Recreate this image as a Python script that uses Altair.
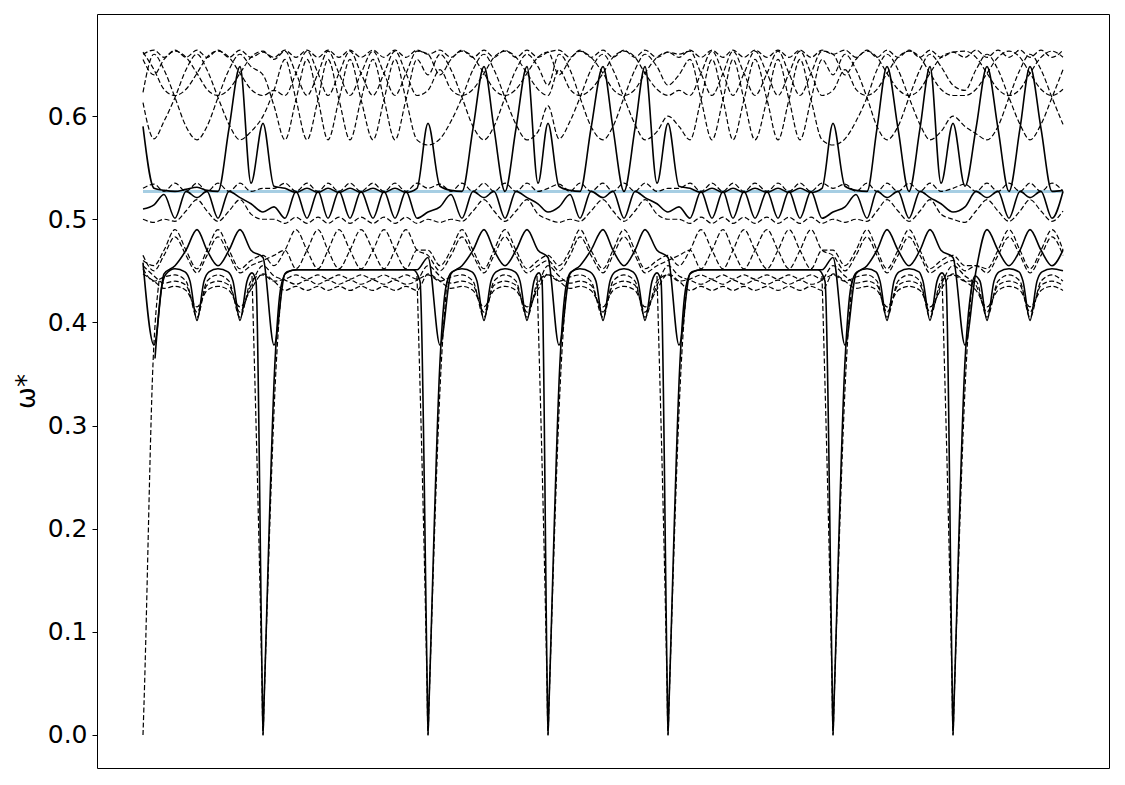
import altair as alt
import pandas as pd

# k positions along the path (grid of half-nodes), shared by the dense series
k_grid = [0, 11, 21, 32, 43, 54, 64, 75, 86, 97, 108, 120,
          131, 142, 153, 164, 175, 185, 196, 207, 218, 230, 241, 252, 263, 274, 285,
          297, 308, 319, 330, 341, 351, 362, 373, 384, 395, 405,
          416, 427, 437, 448, 460, 470, 481, 492, 502, 514, 525,
          536, 547, 558, 569, 580, 590, 601, 612, 624, 635, 646, 657, 668, 679, 690,
          702, 713, 724, 734, 744, 755, 766, 777, 787, 798, 810,
          822, 833, 844, 855, 866, 877, 887, 898, 909, 920]

# ---- dashed bands ----
u1 = [0.613, 0.578, 0.595, 0.618, 0.645, 0.660, 0.645, 0.618, 0.592, 0.577, 0.585, 0.600,
      0.625, 0.655, 0.616, 0.577, 0.616, 0.655, 0.616, 0.577, 0.616, 0.655, 0.616, 0.577, 0.616, 0.655, 0.640,
      0.660, 0.645, 0.618, 0.590, 0.577, 0.590, 0.618, 0.645, 0.660, 0.648, 0.630,
      0.660, 0.645, 0.618, 0.590, 0.577, 0.590, 0.618, 0.645, 0.660, 0.648, 0.630,
      0.640, 0.655, 0.616, 0.577, 0.616, 0.655, 0.616, 0.577, 0.616, 0.655, 0.616, 0.577, 0.616, 0.655, 0.640,
      0.660, 0.645, 0.618, 0.590, 0.577, 0.590, 0.618, 0.645, 0.660, 0.648, 0.630,
      0.625, 0.645, 0.660, 0.645, 0.618, 0.592, 0.577, 0.592, 0.618, 0.645]
u2 = [0.623, 0.660, 0.645, 0.618, 0.590, 0.577, 0.590, 0.618, 0.645, 0.660, 0.648, 0.640,
      0.610, 0.577, 0.616, 0.655, 0.616, 0.577, 0.616, 0.655, 0.616, 0.577, 0.616, 0.655, 0.616, 0.577, 0.572,
      0.578, 0.595, 0.618, 0.645, 0.660, 0.645, 0.618, 0.592, 0.577, 0.585, 0.610,
      0.578, 0.595, 0.618, 0.645, 0.660, 0.645, 0.618, 0.592, 0.577, 0.585, 0.600,
      0.590, 0.577, 0.616, 0.655, 0.616, 0.577, 0.616, 0.655, 0.616, 0.577, 0.616, 0.655, 0.616, 0.577, 0.572,
      0.578, 0.595, 0.618, 0.645, 0.660, 0.645, 0.618, 0.592, 0.577, 0.585, 0.600,
      0.590, 0.583, 0.577, 0.590, 0.618, 0.645, 0.660, 0.645, 0.618, 0.592]
u3 = [0.655, 0.640, 0.655, 0.663, 0.657, 0.6415, 0.626, 0.620, 0.626, 0.6415, 0.657, 0.663,
      0.655, 0.663, 0.6415, 0.620, 0.6415, 0.663, 0.6415, 0.620, 0.6415, 0.663, 0.6415, 0.620, 0.6415, 0.663, 0.660,
      0.640, 0.655, 0.663, 0.657, 0.6415, 0.626, 0.620, 0.626, 0.6415, 0.657, 0.662,
      0.640, 0.655, 0.663, 0.657, 0.6415, 0.626, 0.620, 0.626, 0.6415, 0.657, 0.662,
      0.660, 0.663, 0.6415, 0.620, 0.6415, 0.663, 0.6415, 0.620, 0.6415, 0.663, 0.6415, 0.620, 0.6415, 0.663, 0.660,
      0.640, 0.655, 0.663, 0.657, 0.6415, 0.626, 0.620, 0.626, 0.6415, 0.657, 0.662,
      0.663, 0.657, 0.6415, 0.626, 0.620, 0.626, 0.6415, 0.657, 0.663, 0.657]
u4 = [0.662, 0.645, 0.626, 0.620, 0.626, 0.6415, 0.657, 0.663, 0.657, 0.6415, 0.626, 0.620,
      0.625, 0.620, 0.6415, 0.663, 0.6415, 0.620, 0.6415, 0.663, 0.6415, 0.620, 0.6415, 0.663, 0.6415, 0.620, 0.625,
      0.645, 0.626, 0.620, 0.626, 0.6415, 0.657, 0.663, 0.657, 0.6415, 0.626, 0.620,
      0.645, 0.626, 0.620, 0.626, 0.6415, 0.657, 0.663, 0.657, 0.6415, 0.626, 0.620,
      0.625, 0.620, 0.6415, 0.663, 0.6415, 0.620, 0.6415, 0.663, 0.6415, 0.620, 0.6415, 0.663, 0.6415, 0.620, 0.625,
      0.645, 0.626, 0.620, 0.626, 0.6415, 0.657, 0.663, 0.657, 0.6415, 0.626, 0.620,
      0.620, 0.626, 0.6415, 0.657, 0.663, 0.657, 0.6415, 0.626, 0.620, 0.626]
t1 = [0.660, 0.664, 0.657, 0.664, 0.657, 0.664, 0.657, 0.664, 0.657, 0.664, 0.657, 0.662,
      0.657, 0.664, 0.657, 0.664, 0.657, 0.664, 0.657, 0.664, 0.657, 0.664, 0.657, 0.664, 0.657, 0.664, 0.660,
      0.664, 0.657, 0.664, 0.657, 0.664, 0.657, 0.664, 0.657, 0.664, 0.657, 0.662,
      0.664, 0.657, 0.664, 0.657, 0.664, 0.657, 0.664, 0.657, 0.664, 0.657, 0.662,
      0.657, 0.664, 0.657, 0.664, 0.657, 0.664, 0.657, 0.664, 0.657, 0.664, 0.657, 0.664, 0.657, 0.664, 0.660,
      0.664, 0.657, 0.664, 0.657, 0.664, 0.657, 0.664, 0.657, 0.664, 0.657, 0.662,
      0.657, 0.664, 0.657, 0.664, 0.657, 0.664, 0.657, 0.664, 0.657, 0.664]
m1 = [0.530, 0.534, 0.527, 0.535, 0.527, 0.535, 0.527, 0.535, 0.527, 0.535, 0.527, 0.530,
      0.530, 0.535, 0.527, 0.535, 0.527, 0.535, 0.527, 0.535, 0.527, 0.535, 0.527, 0.535, 0.527, 0.535, 0.530,
      0.534, 0.527, 0.535, 0.527, 0.535, 0.527, 0.535, 0.527, 0.535, 0.527, 0.530,
      0.534, 0.527, 0.535, 0.527, 0.535, 0.527, 0.535, 0.527, 0.535, 0.527, 0.530,
      0.530, 0.535, 0.527, 0.535, 0.527, 0.535, 0.527, 0.535, 0.527, 0.535, 0.527, 0.535, 0.527, 0.535, 0.530,
      0.534, 0.527, 0.535, 0.527, 0.535, 0.527, 0.535, 0.527, 0.535, 0.527, 0.530,
      0.534, 0.527, 0.535, 0.527, 0.535, 0.527, 0.535, 0.527, 0.535, 0.527]
m2 = [0.500, 0.497, 0.500, 0.498, 0.508, 0.519, 0.508, 0.498, 0.508, 0.519, 0.505, 0.500,
      0.500, 0.496, 0.502, 0.496, 0.502, 0.496, 0.502, 0.496, 0.502, 0.496, 0.502, 0.496, 0.502, 0.496, 0.500,
      0.497, 0.500, 0.498, 0.508, 0.519, 0.508, 0.498, 0.508, 0.519, 0.505, 0.500,
      0.497, 0.500, 0.498, 0.508, 0.519, 0.508, 0.498, 0.508, 0.519, 0.505, 0.500,
      0.500, 0.496, 0.502, 0.496, 0.502, 0.496, 0.502, 0.496, 0.502, 0.496, 0.502, 0.496, 0.502, 0.496, 0.500,
      0.497, 0.500, 0.498, 0.508, 0.519, 0.508, 0.498, 0.508, 0.519, 0.505, 0.500,
      0.497, 0.508, 0.519, 0.508, 0.498, 0.508, 0.519, 0.508, 0.498, 0.508]
l1 = [0.460, 0.455, 0.470, 0.490, 0.470, 0.452, 0.470, 0.490, 0.470, 0.452, 0.460, 0.465,
      0.455, 0.470, 0.490, 0.470, 0.452, 0.470, 0.490, 0.470, 0.452, 0.470, 0.490, 0.470, 0.452, 0.470, 0.470,
      0.455, 0.470, 0.490, 0.470, 0.452, 0.470, 0.490, 0.470, 0.452, 0.460, 0.465,
      0.455, 0.470, 0.490, 0.470, 0.452, 0.470, 0.490, 0.470, 0.452, 0.460, 0.465,
      0.455, 0.470, 0.490, 0.470, 0.452, 0.470, 0.490, 0.470, 0.452, 0.470, 0.490, 0.470, 0.452, 0.470, 0.470,
      0.455, 0.470, 0.490, 0.470, 0.452, 0.470, 0.490, 0.470, 0.452, 0.460, 0.465,
      0.455, 0.455, 0.452, 0.470, 0.490, 0.470, 0.452, 0.470, 0.490, 0.470]
l2 = [0.465, 0.450, 0.465, 0.483, 0.465, 0.448, 0.465, 0.483, 0.465, 0.448, 0.455, 0.460,
      0.465, 0.470, 0.452, 0.470, 0.490, 0.470, 0.452, 0.470, 0.490, 0.470, 0.452, 0.470, 0.490, 0.470, 0.465,
      0.450, 0.465, 0.483, 0.465, 0.448, 0.465, 0.483, 0.465, 0.448, 0.455, 0.460,
      0.450, 0.465, 0.483, 0.465, 0.448, 0.465, 0.483, 0.465, 0.448, 0.455, 0.460,
      0.465, 0.470, 0.452, 0.470, 0.490, 0.470, 0.452, 0.470, 0.490, 0.470, 0.452, 0.470, 0.490, 0.470, 0.465,
      0.450, 0.465, 0.483, 0.465, 0.448, 0.465, 0.483, 0.465, 0.448, 0.455, 0.460,
      0.450, 0.455, 0.448, 0.465, 0.483, 0.465, 0.448, 0.465, 0.483, 0.465]
sc1 = [0.452, 0.440, 0.444, 0.446, 0.440, 0.405, 0.440, 0.446, 0.440, 0.405, 0.440, 0.446,
       0.440, 0.442, 0.446, 0.442, 0.446, 0.442, 0.446, 0.442, 0.446, 0.442, 0.446, 0.442, 0.446, 0.442, 0.446,
       0.440, 0.444, 0.446, 0.440, 0.405, 0.440, 0.446, 0.440, 0.405, 0.440, 0.446,
       0.440, 0.444, 0.446, 0.440, 0.405, 0.440, 0.446, 0.440, 0.405, 0.440, 0.446,
       0.440, 0.442, 0.446, 0.442, 0.446, 0.442, 0.446, 0.442, 0.446, 0.442, 0.446, 0.442, 0.446, 0.442, 0.446,
       0.440, 0.444, 0.446, 0.440, 0.405, 0.440, 0.446, 0.440, 0.405, 0.440, 0.446,
       0.440, 0.440, 0.405, 0.440, 0.446, 0.440, 0.405, 0.440, 0.446, 0.440]
sc2 = [0.455, 0.445, 0.438, 0.440, 0.436, 0.410, 0.436, 0.440, 0.436, 0.410, 0.436, 0.455,
       0.445, 0.441, 0.437, 0.441, 0.437, 0.441, 0.437, 0.441, 0.437, 0.441, 0.437, 0.441, 0.437, 0.441, 0.455,
       0.445, 0.438, 0.440, 0.436, 0.410, 0.436, 0.440, 0.436, 0.410, 0.436, 0.455,
       0.445, 0.438, 0.440, 0.436, 0.410, 0.436, 0.440, 0.436, 0.410, 0.436, 0.455,
       0.445, 0.441, 0.437, 0.441, 0.437, 0.441, 0.437, 0.441, 0.437, 0.441, 0.437, 0.441, 0.437, 0.441, 0.455,
       0.445, 0.438, 0.440, 0.436, 0.410, 0.436, 0.440, 0.436, 0.410, 0.436, 0.455,
       0.445, 0.436, 0.410, 0.436, 0.440, 0.436, 0.410, 0.436, 0.440, 0.436]
sc3 = [0.447, 0.440, 0.433, 0.435, 0.431, 0.415, 0.431, 0.435, 0.431, 0.415, 0.432, 0.447,
       0.440, 0.431, 0.435, 0.431, 0.435, 0.431, 0.435, 0.431, 0.435, 0.431, 0.435, 0.431, 0.435, 0.431, 0.447,
       0.440, 0.433, 0.435, 0.431, 0.415, 0.431, 0.435, 0.431, 0.415, 0.432, 0.447,
       0.440, 0.433, 0.435, 0.431, 0.415, 0.431, 0.435, 0.431, 0.415, 0.432, 0.447,
       0.440, 0.431, 0.435, 0.431, 0.435, 0.431, 0.435, 0.431, 0.435, 0.431, 0.435, 0.431, 0.435, 0.431, 0.447,
       0.440, 0.433, 0.435, 0.431, 0.415, 0.431, 0.435, 0.431, 0.415, 0.432, 0.447,
       0.440, 0.431, 0.415, 0.431, 0.435, 0.431, 0.415, 0.431, 0.435, 0.431]

# dashed deep dips to zero (own knots, one piece per dip)
d_spike_k = [0, 1, 10, 16,
             109, 119, 120, 121, 133, 139,
             274, 284, 285, 286, 298, 304,
             394, 404, 405, 406, 418, 424,
             514, 524, 525, 526, 538, 544,
             679, 689, 690, 691, 703, 709,
             799, 809, 810, 811, 823, 829]
d_spike_w = [0.000, 0.030, 0.360, 0.440,
             0.445, 0.050, 0.000, 0.030, 0.355, 0.440,
             0.445, 0.050, 0.000, 0.030, 0.355, 0.440,
             0.445, 0.050, 0.000, 0.030, 0.355, 0.440,
             0.445, 0.050, 0.000, 0.030, 0.355, 0.440,
             0.445, 0.050, 0.000, 0.030, 0.355, 0.440,
             0.445, 0.050, 0.000, 0.030, 0.355, 0.440]
d_spike_id = [0, 0, 0, 0,
              1, 1, 1, 1, 1, 1,
              2, 2, 2, 2, 2, 2,
              3, 3, 3, 3, 3, 3,
              4, 4, 4, 4, 4, 4,
              5, 5, 5, 5, 5, 5,
              6, 6, 6, 6, 6, 6]

# ---- solid bands ----
s_up = [0.590, 0.530, 0.528, 0.527, 0.529, 0.531, 0.528, 0.527, 0.588, 0.648, 0.535, 0.593,
        0.532, 0.530, 0.526, 0.530, 0.526, 0.530, 0.526, 0.530, 0.526, 0.530, 0.526, 0.530, 0.526, 0.530, 0.593,
        0.532, 0.528, 0.527, 0.588, 0.648, 0.588, 0.527, 0.588, 0.648, 0.535, 0.593,
        0.532, 0.528, 0.527, 0.588, 0.648, 0.588, 0.527, 0.588, 0.648, 0.535, 0.593,
        0.532, 0.530, 0.526, 0.530, 0.526, 0.530, 0.526, 0.530, 0.526, 0.530, 0.526, 0.530, 0.526, 0.530, 0.593,
        0.532, 0.528, 0.527, 0.588, 0.648, 0.588, 0.527, 0.588, 0.648, 0.535, 0.593,
        0.532, 0.588, 0.648, 0.588, 0.527, 0.588, 0.648, 0.588, 0.527, 0.528]
s_mid = [0.510, 0.514, 0.524, 0.501, 0.527, 0.521, 0.527, 0.501, 0.527, 0.521, 0.515, 0.507,
         0.512, 0.501, 0.527, 0.501, 0.527, 0.501, 0.527, 0.501, 0.527, 0.501, 0.527, 0.501, 0.527, 0.501, 0.507,
         0.512, 0.524, 0.501, 0.527, 0.521, 0.527, 0.501, 0.527, 0.521, 0.515, 0.507,
         0.512, 0.524, 0.501, 0.527, 0.521, 0.527, 0.501, 0.527, 0.521, 0.515, 0.507,
         0.512, 0.501, 0.527, 0.501, 0.527, 0.501, 0.527, 0.501, 0.527, 0.501, 0.527, 0.501, 0.527, 0.501, 0.507,
         0.512, 0.524, 0.501, 0.527, 0.521, 0.527, 0.501, 0.527, 0.521, 0.515, 0.507,
         0.512, 0.527, 0.521, 0.527, 0.501, 0.527, 0.521, 0.527, 0.501, 0.527]
s_lam = [0.458, 0.378, 0.447, 0.455, 0.470, 0.490, 0.470, 0.455, 0.470, 0.490, 0.470, 0.463,
         0.378, 0.447, 0.451, 0.451, 0.451, 0.451, 0.451, 0.451, 0.451, 0.451, 0.451, 0.451, 0.451, 0.451, 0.463,
         0.378, 0.447, 0.455, 0.470, 0.490, 0.470, 0.455, 0.470, 0.490, 0.470, 0.463,
         0.378, 0.447, 0.455, 0.470, 0.490, 0.470, 0.455, 0.470, 0.490, 0.470, 0.463,
         0.378, 0.447, 0.451, 0.451, 0.451, 0.451, 0.451, 0.451, 0.451, 0.451, 0.451, 0.451, 0.451, 0.451, 0.463,
         0.378, 0.447, 0.455, 0.470, 0.490, 0.470, 0.455, 0.470, 0.490, 0.470, 0.463,
         0.378, 0.450, 0.490, 0.470, 0.455, 0.470, 0.490, 0.470, 0.455, 0.470]

# lowest solid band with the deep dips to zero (own knots)
s_low_k = [12, 18, 23, 32, 42, 47, 54, 61, 66, 75, 85, 90, 97, 104, 109, 113, 119, 120, 121,
           132, 138, 144, 155, 270, 277, 284, 285, 286,
           297, 303, 309, 319, 329, 334, 341, 348, 353, 362, 372, 377, 384, 391, 396, 399, 404, 405, 406,
           417, 423, 428, 437, 447, 453, 460, 467, 472, 481, 490, 495, 502, 509, 514, 518, 524, 525, 526,
           537, 543, 549, 560, 675, 682, 689, 690, 691,
           702, 708, 714, 724, 733, 737, 744, 751, 756, 766, 776, 780, 787, 794, 799, 803, 809, 810, 811,
           822, 828, 832, 837, 844, 851, 856, 866, 876, 880, 887, 894, 899, 909, 920]
s_low_w = [0.365, 0.430, 0.447, 0.452, 0.449, 0.440, 0.402, 0.440, 0.449, 0.452, 0.449, 0.440, 0.402, 0.440, 0.448, 0.440, 0.060, 0.000, 0.030,
           0.362, 0.435, 0.449, 0.451, 0.451, 0.440, 0.060, 0.000, 0.030,
           0.362, 0.435, 0.449, 0.452, 0.449, 0.440, 0.402, 0.440, 0.449, 0.452, 0.449, 0.440, 0.402, 0.440, 0.448, 0.440, 0.060, 0.000, 0.030,
           0.362, 0.435, 0.449, 0.452, 0.449, 0.440, 0.402, 0.440, 0.449, 0.452, 0.449, 0.440, 0.402, 0.440, 0.448, 0.440, 0.060, 0.000, 0.030,
           0.362, 0.435, 0.449, 0.451, 0.451, 0.440, 0.060, 0.000, 0.030,
           0.362, 0.435, 0.449, 0.452, 0.449, 0.440, 0.402, 0.440, 0.449, 0.452, 0.449, 0.440, 0.402, 0.440, 0.448, 0.440, 0.060, 0.000, 0.030,
           0.362, 0.430, 0.445, 0.440, 0.402, 0.440, 0.449, 0.452, 0.449, 0.440, 0.402, 0.440, 0.449, 0.452, 0.450]

# reference level (light blue)
ref_k = [0, 920]
ref_w = [0.527, 0.527]

y_ticks = [0.0, 0.1, 0.2, 0.3, 0.4, 0.5, 0.6]

dashed = [("u1", u1), ("u2", u2), ("u3", u3), ("u4", u4), ("t1", t1), ("m1", m1),
          ("m2", m2), ("l1", l1), ("l2", l2), ("sc1", sc1), ("sc2", sc2), ("sc3", sc3)]
solid = [("s_up", s_up), ("s_mid", s_mid), ("s_lam", s_lam)]

rows_d = []
for name, vals in dashed:
    assert len(vals) == len(k_grid), (name, len(vals))
    for k, w in zip(k_grid, vals):
        rows_d.append({"k": k, "w": w, "series": name})
assert len(d_spike_k) == len(d_spike_w) == len(d_spike_id)
for k, w, i in zip(d_spike_k, d_spike_w, d_spike_id):
    rows_d.append({"k": k, "w": w, "series": "spike%d" % i})
rows_s = []
for name, vals in solid:
    assert len(vals) == len(k_grid), (name, len(vals))
    for k, w in zip(k_grid, vals):
        rows_s.append({"k": k, "w": w, "series": name})
assert len(s_low_k) == len(s_low_w), (len(s_low_k), len(s_low_w))
for k, w in zip(s_low_k, s_low_w):
    rows_s.append({"k": k, "w": w, "series": "s_low"})
df_d = pd.DataFrame(rows_d)
df_s = pd.DataFrame(rows_s)
df_ref = pd.DataFrame({"k": ref_k, "w": ref_w})

xs = alt.X("k:Q", scale=alt.Scale(domain=[-46, 966], nice=False, zero=False), axis=None)
ys = alt.Y("w:Q", scale=alt.Scale(domain=[-0.032, 0.699], nice=False, zero=False),
           axis=alt.Axis(values=y_ticks, format=".1f", title="ω*", grid=False, domain=False,
                         tickSize=5, tickColor="black", tickWidth=1, labelPadding=5,
                         labelFontSize=25, labelColor="black", labelFont="DejaVu Sans",
                         titleFontSize=26, titleFont="DejaVu Sans", titleFontWeight="normal",
                         titleColor="black", titlePadding=8))

ref = alt.Chart(df_ref).mark_line(color="#a6cee3", strokeWidth=3).encode(x=xs, y=ys)
dash = alt.Chart(df_d).mark_line(color="black", strokeWidth=1.2, strokeDash=[5, 2.5],
                                 interpolate="monotone").encode(x=xs, y=ys, detail="series:N")
sol = alt.Chart(df_s).mark_line(color="black", strokeWidth=1.6,
                                interpolate="monotone").encode(x=xs, y=ys, detail="series:N")

chart = alt.layer(ref, dash, sol).properties(
    width=1012, height=754,
    background="white",
    autosize=alt.AutoSizeParams(type="none"),
    padding={"left": 89, "top": 6, "right": 8, "bottom": 9},
).configure_view(stroke="black", strokeWidth=1)

chart.save("out.html", embed_options={"renderer": "svg", "actions": False})
